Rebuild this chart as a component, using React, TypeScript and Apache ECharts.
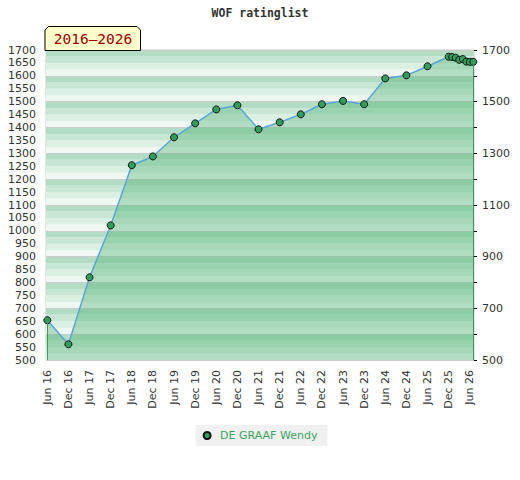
import React, { useEffect, useRef } from "react";
import * as echarts from "echarts";

// ---- data ----
const xTickLabels = [
  "Jun 16", "Dec 16", "Jun 17", "Dec 17", "Jun 18", "Dec 18", "Jun 19",
  "Dec 19", "Jun 20", "Dec 20", "Jun 21", "Dec 21", "Jun 22", "Dec 22",
  "Jun 23", "Dec 23", "Jun 24", "Dec 24", "Jun 25", "Dec 25", "Jun 26",
];
// months since Jun 2016
const months = [0, 6, 12, 18, 24, 30, 36, 42, 48, 54, 60, 66, 72, 78, 84, 90, 96, 102, 108, 114, 115, 116, 117, 118, 119, 120, 121];
const ratings = [654, 561, 820, 1021, 1254, 1288, 1362, 1416, 1470, 1486, 1393, 1420, 1451, 1490, 1503, 1490, 1590, 1602, 1637, 1674, 1673, 1670, 1662, 1665, 1655, 1654, 1654];
const seriesName = "DE GRAAF Wendy";
const periodLabel = "2016–2026";
const chartTitle = "WOF ratinglist";
const yMin = 500;
const yMax = 1700;
const leftLabelStep = 50;
const rightLabelStep = 200;
const stripeColors = ["#eef7f2", "#dcefe3", "#c7e6d3", "#b3dcc4"];

export default function App() {
  const ref = useRef<HTMLDivElement>(null);
  useEffect(() => {
    document.body.style.margin = "0";
    const chart = echarts.init(ref.current!, null, { renderer: "svg" });
    const points = months.map((m, i) => [m, ratings[i]]);
    const first = points[0];
    const last = points[points.length - 1];
    const font = "DejaVu Sans";
    chart.setOption({
      animation: false,
      title: {
        text: chartTitle,
        left: "center",
        top: 7,
        padding: 0,
        textStyle: { fontFamily: "DejaVu Sans Mono", fontWeight: "bold", fontSize: 11.5, color: "#333" },
      },
      grid: { left: 46, right: 46, top: 50, bottom: 120, show: true, borderColor: "#cccccc", borderWidth: 1, backgroundColor: "transparent" },
      legend: {
        data: [seriesName],
        left: "center",
        top: 425,
        backgroundColor: "#f0f0f0",
        padding: [5, 10, 5, 7],
        icon: "circle",
        itemWidth: 16,
        itemHeight: 7,
        textStyle: { color: "#3aa35f", fontSize: 11, fontFamily: font },
      },
      xAxis: {
        type: "value",
        min: -0.37,
        max: 121.2,
        axisLine: { show: false },
        axisTick: { show: false },
        splitLine: { show: false },
        axisLabel: {
          customValues: xTickLabels.map((_, i) => i * 6),
          formatter: (v: number) => {
            const idx = Math.round(v / 6);
            return Math.abs(v - idx * 6) < 1e-6 && xTickLabels[idx] ? xTickLabels[idx] : "";
          },
          rotate: 90,
          margin: 10,
          fontSize: 11,
          fontFamily: font,
          color: "#333",
        },
      },
      yAxis: [
        {
          type: "value",
          min: yMin,
          max: yMax,
          interval: 25,
          position: "left",
          axisLine: { show: false },
          axisTick: { show: false },
          splitLine: { show: false },
          splitArea: { show: true, areaStyle: { color: stripeColors } },
          axisLabel: {
            formatter: (v: number) => ((v - yMin) % leftLabelStep === 0 ? String(v) : ""),
            margin: 10,
            fontSize: 11,
            fontFamily: font,
            color: "#333",
          },
        },
        {
          type: "value",
          min: yMin,
          max: yMax,
          interval: 100,
          position: "right",
          axisLine: { show: false },
          axisTick: { show: true, length: 3, inside: false, lineStyle: { color: "#000" } },
          splitLine: { show: true, lineStyle: { color: "#cccccc", width: 1 } },
          axisLabel: {
            formatter: (v: number) => ((v - yMin) % rightLabelStep === 0 ? String(v) : ""),
            margin: 8,
            fontSize: 11,
            fontFamily: font,
            color: "#333",
          },
        },
      ],
      graphic: [
        {
          type: "polygon",
          z: 100,
          shape: { points: [[45, 50.5], [45, 30], [48.5, 26.5], [137, 26.5], [140.5, 30], [140.5, 50.5]] },
          style: { fill: "#ffffcc", stroke: "#000", lineWidth: 1 },
        },
        {
          type: "text",
          z: 101,
          x: 93,
          y: 39,
          style: { text: periodLabel, fill: "#990000", font: '14.5px "DejaVu Sans Mono"', align: "center", verticalAlign: "middle" },
        },
      ],
      series: [
        {
          name: seriesName,
          type: "line",
          yAxisIndex: 0,
          data: points,
          symbol: "circle",
          symbolSize: 7,
          itemStyle: { color: "#2f9e5c", borderColor: "#111", borderWidth: 1 },
          lineStyle: { color: "#5aa5d8", width: 1.5 },
          areaStyle: { color: "rgba(70,173,106,0.5)", origin: "start" },
          markLine: {
            silent: true,
            symbol: ["none", "none"],
            label: { show: false },
            lineStyle: { color: "#3a9a50", width: 1, type: "solid" },
            data: [
              [{ coord: [first[0], yMin] }, { coord: [first[0], first[1]] }],
              [{ coord: [last[0], yMin] }, { coord: [last[0], last[1]] }],
            ],
          },
        },
      ],
    });
    return () => chart.dispose();
  }, []);
  return <div ref={ref} style={{ width: 520, height: 480 }} />;
}
